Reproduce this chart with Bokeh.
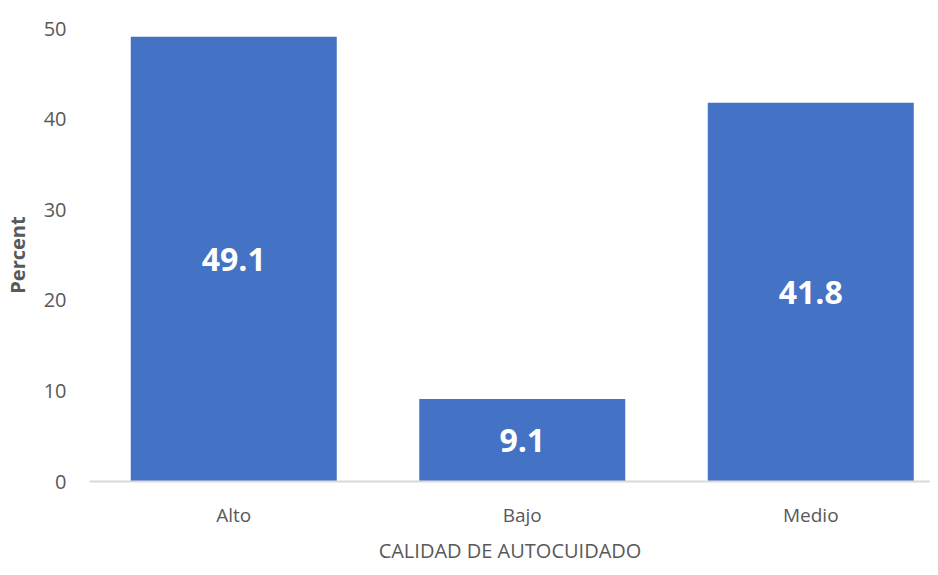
from bokeh.plotting import figure
from bokeh.models import Range1d, ColumnDataSource, FixedTicker, LabelSet
from bokeh.core.properties import value
from bokeh.embed import file_html
from bokeh.resources import INLINE

categories = ["Alto", "Bajo", "Medio"]
percent = [49.1, 9.1, 41.8]
y_ticks = [0, 10, 20, 30, 40, 50]

xpos = list(range(len(categories)))
src = ColumnDataSource(dict(
    x=xpos,
    top=percent,
    mid=[v / 2 for v in percent],
    lbl=[f"{v:.1f}" for v in percent],
))

p = figure(width=930, height=567, output_backend="svg", toolbar_location=None,
           x_range=Range1d(-0.5, 2.415), y_range=Range1d(0, 50),
           min_border_left=81, min_border_right=0, min_border_top=28, min_border_bottom=86)
p.outline_line_color = None
p.xgrid.visible = False
p.ygrid.visible = False

p.vbar(x="x", top="top", width=0.714, source=src, fill_color="#4472C4", line_color=None)

labels = LabelSet(x="x", y="mid", text="lbl", source=src, text_align="center",
                  text_baseline="middle", text_color="white",
                  text_font=value("Open Sans"), text_font_size="32px", text_font_style="bold")
p.add_layout(labels)

# x axis
p.xaxis.ticker = FixedTicker(ticks=xpos)
p.xaxis.major_label_overrides = {i: c for i, c in zip(xpos, categories)}
p.xaxis.axis_line_color = "#D9D9D9"
p.xaxis.axis_line_width = 2
p.xaxis.major_tick_line_color = None
p.xaxis.minor_tick_line_color = None
p.xaxis.major_label_text_font = "Open Sans"
p.xaxis.major_label_text_font_size = "19px"
p.xaxis.major_label_text_color = "#595959"
p.xaxis.major_label_standoff = 14
p.xaxis.axis_label = "CALIDAD DE AUTOCUIDADO"
p.xaxis.axis_label_text_font = "Open Sans"
p.xaxis.axis_label_text_font_size = "20px"
p.xaxis.axis_label_text_font_style = "normal"
p.xaxis.axis_label_text_color = "#595959"
p.xaxis.axis_label_standoff = 6

# y axis
p.yaxis.ticker = FixedTicker(ticks=y_ticks)
p.yaxis.axis_line_color = None
p.yaxis.major_tick_line_color = None
p.yaxis.minor_tick_line_color = None
p.yaxis.major_label_text_font = "Open Sans"
p.yaxis.major_label_text_font_size = "20px"
p.yaxis.major_label_text_color = "#595959"
p.yaxis.major_label_standoff = 17
p.yaxis.axis_label = "Percent"
p.yaxis.axis_label_text_font = "Open Sans"
p.yaxis.axis_label_text_font_size = "20px"
p.yaxis.axis_label_text_font_style = "bold"
p.yaxis.axis_label_text_color = "#595959"
p.yaxis.axis_label_standoff = 10

open("out.html", "w").write(file_html(p, INLINE))
